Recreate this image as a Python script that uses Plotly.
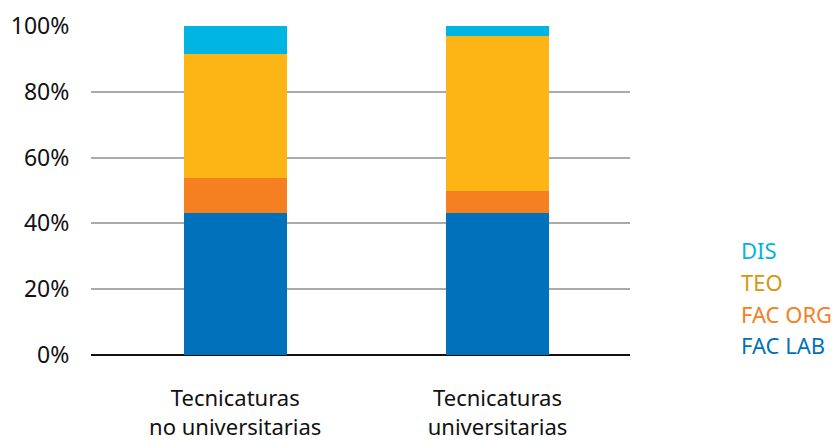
import plotly.graph_objects as go

categories = ["Tecnicaturas<br>no universitarias", "Tecnicaturas<br>universitarias"]
series_names = ["FAC LAB", "FAC ORG", "TEO", "DIS"]
fac_lab = [43.2, 43.2]
fac_org = [10.7, 6.6]
teo = [37.5, 47.1]
dis = [8.6, 3.1]
tick_vals = [0, 20, 40, 60, 80, 100]
tick_text = ["0%", "20%", "40%", "60%", "80%", "100%"]

bar_colors = ["#0072BB", "#F58022", "#FDB515", "#00B5E2"]
legend_colors = ["#0072BB", "#F58022", "#D4980F", "#00B5E2"]

values = [fac_lab, fac_org, teo, dis]
xpos = [0, 1]

fig = go.Figure()
for name, vals, col in zip(series_names, values, bar_colors):
    fig.add_trace(go.Bar(x=xpos, y=vals, name=name, marker=dict(color=col, line=dict(width=0)),
                         width=0.394, showlegend=False))

FONT = "Noto Sans"
# legend as colored text annotations (top to bottom: DIS, TEO, FAC ORG, FAC LAB)
leg_y = [250, 282, 314, 345]
for i, idx in enumerate([3, 2, 1, 0]):
    fig.add_annotation(text=series_names[idx], xref="paper", yref="paper",
                       x=(739 - 91) / 539, y=(355 - leg_y[i]) / 329.3,
                       xanchor="left", yanchor="middle", showarrow=False,
                       font=dict(family=FONT, size=22, color=legend_colors[idx]))

fig.update_layout(
    barmode="stack",
    width=832, height=441, autosize=False,
    margin=dict(l=91, r=202, t=26, b=86),
    plot_bgcolor="white", paper_bgcolor="white",
    font=dict(family=FONT, size=23, color="#111111"),
    xaxis=dict(range=[-0.55, 1.505], tickvals=xpos, ticktext=categories,
               showgrid=False, zeroline=False, showline=False, automargin=False,
               ticks="outside", ticklen=24, tickcolor="rgba(0,0,0,0)",
               tickfont=dict(family=FONT, size=22)),
    yaxis=dict(range=[0, 100], tickvals=tick_vals, ticktext=tick_text,
               showgrid=True, gridcolor="#AAAAAA", gridwidth=1.5,
               zeroline=True, zerolinecolor="#111111", zerolinewidth=2,
               showline=False, automargin=False,
               ticks="outside", ticklen=16, tickcolor="rgba(0,0,0,0)",
               tickfont=dict(family=FONT, size=23)),
    bargap=0,
)

fig.write_html("out.html")
